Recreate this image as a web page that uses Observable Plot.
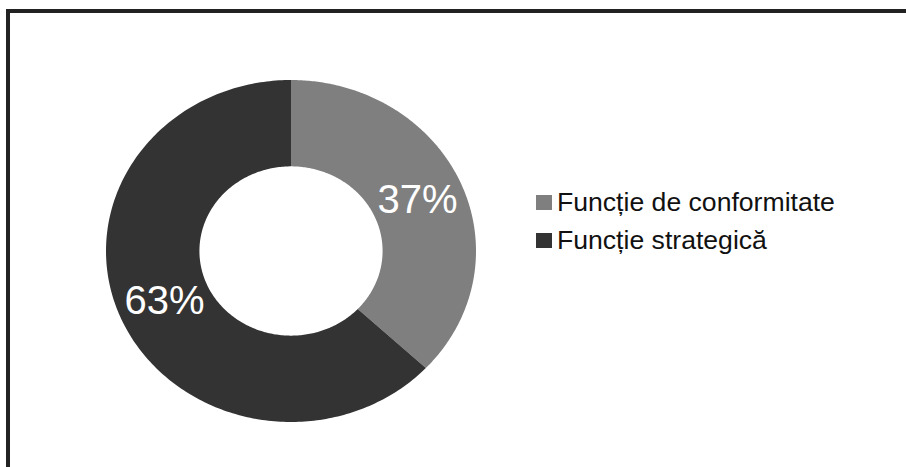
<!DOCTYPE html>
<html>
<head>
<meta charset="utf-8">
<script src="https://cdn.jsdelivr.net/npm/d3@7"></script>
<script src="https://cdn.jsdelivr.net/npm/@observablehq/plot@0.6"></script>
<style>
  html, body { margin: 0; padding: 0; background: #fff; overflow: hidden; }
  #wrap { position: relative; width: 906px; height: 467px; overflow: hidden; font-family: "Liberation Sans", Arial, sans-serif; }
  #lineTop { position: absolute; left: 6px; top: 9px; width: 920px; height: 4px; background: #222; }
  #lineLeft { position: absolute; left: 6px; top: 9px; width: 4px; height: 470px; background: #222; }
  #chart { position: absolute; left: 0; top: 0; }
  #legend { position: absolute; left: 536px; top: 183px; }
  .row { display: flex; align-items: flex-start; height: 38px; line-height: 38px; font-size: 26.6px; color: #111; white-space: nowrap; }
  .sw { width: 16px; height: 15px; margin-top: 12px; margin-right: 5px; flex: none; }
</style>
</head>
<body>
<div id="wrap">
  <div id="lineTop"></div>
  <div id="lineLeft"></div>
  <div id="chart"></div>
  <div id="legend"></div>
</div>
<script>
const categories = ["Funcție de conformitate", "Funcție strategică"];
const values = [37, 63];
const colors = ["#7f7f7f", "#333333"];
const labels = ["37%", "63%"];

const total = d3.sum(values);
const innerR = 0.495;
const labelR = 0.745;

// build slice outlines in unit (data) space
let start = 0;
const slices = categories.map((name, i) => {
  const a0 = start / total * 2 * Math.PI;
  const a1 = (start + values[i]) / total * 2 * Math.PI;
  start += values[i];
  const n = 240;
  const pts = [];
  for (let k = 0; k <= n; k++) {
    const a = a0 + (a1 - a0) * k / n;
    pts.push({x: Math.sin(a), y: Math.cos(a)});
  }
  for (let k = n; k >= 0; k--) {
    const a = a0 + (a1 - a0) * k / n;
    pts.push({x: innerR * Math.sin(a), y: innerR * Math.cos(a)});
  }
  const am = (a0 + a1) / 2;
  return {name, pts, color: colors[i], label: labels[i], lx: labelR * Math.sin(am), ly: labelR * Math.cos(am)};
});

const chart = Plot.plot({
  width: 906,
  height: 467,
  margin: 0,
  style: {background: "transparent", fontFamily: "'Liberation Sans', Arial, sans-serif"},
  x: {domain: [-1, 1], range: [105.5, 475.5], axis: null},
  y: {domain: [-1, 1], range: [421.5, 79.5], axis: null},
  marks: [
    ...slices.map(s => Plot.line(s.pts, {x: "x", y: "y", fill: s.color, stroke: "none", curve: "linear"})),
    Plot.text(slices, {x: "lx", y: "ly", text: "label", fill: "white", fontSize: 40, fontFamily: "'Liberation Sans', Arial, sans-serif"})
  ]
});
document.getElementById("chart").appendChild(chart);

const legend = document.getElementById("legend");
categories.forEach((c, i) => {
  const row = document.createElement("div");
  row.className = "row";
  const sw = document.createElement("span");
  sw.className = "sw";
  sw.style.background = colors[i];
  const t = document.createElement("span");
  t.textContent = c;
  row.appendChild(sw);
  row.appendChild(t);
  legend.appendChild(row);
});
</script>
</body>
</html>
